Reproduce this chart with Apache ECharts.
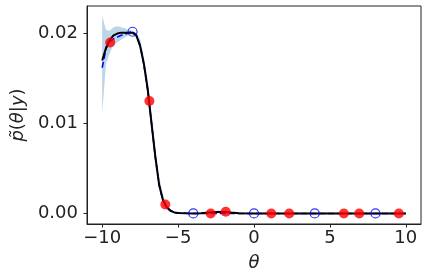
<!DOCTYPE html>
<html>
<head>
<meta charset="utf-8">
<script src="https://cdn.jsdelivr.net/npm/echarts@6/dist/echarts.min.js"></script>
<style>
  html, body { margin: 0; padding: 0; background: #fff; }
  #chart { width: 428px; height: 280px; }
</style>
</head>
<body>
<div id="chart"></div>
<script>
// theta grid shared by the curves and the band
const thetaGrid = [-10, -9.75, -9.5, -9.25, -9, -8.75, -8.5, -8.25, -8, -7.75, -7.5, -7.25, -7, -6.75, -6.5, -6.25, -6, -5.75, -5.5, -5.25, -5, -4.5, -4, -3.5, -3, -2.5, -2, -1.5, -1, 0, 2, 4, 6, 8, 10];
// black solid curve
const meanCurve = [0.0170, 0.0184, 0.0193, 0.0198, 0.0200, 0.0201, 0.0201, 0.0201, 0.0201, 0.0198, 0.0186, 0.0166, 0.0138, 0.0100, 0.0063, 0.0032, 0.0015, 0.0007, 0.0003, 0.00012, 0.00005, 0.00002, 0.00001, 0.00003, 0.0001, 0.00016, 0.0002, 0.0001, 0.00003, 0, 0, 0, 0, 0, 0];
// blue dashed curve
const dashCurve = [0.0162, 0.0183, 0.0191, 0.0194, 0.0196, 0.0198, 0.0199, 0.0201, 0.0202, 0.0198, 0.0187, 0.0165, 0.0137, 0.0100, 0.0063, 0.0032, 0.0015, 0.0007, 0.0003, 0.00012, 0.00005, 0.00002, 0, 0, 0, 0, 0, 0, 0, 0, 0, 0, 0, 0, 0];
// shaded band
const bandLow = [0.0111, 0.0166, 0.0178, 0.0188, 0.0190, 0.0193, 0.0196, 0.0198, 0.0199, 0.0195, 0.0183, 0.0160, 0.0132, 0.0095, 0.0058, 0.0028, 0.0012, 0.0005, 0.0002, 0.00005, 0, 0, 0, 0, 0, 0, 0, 0, 0, 0, 0, 0, 0, 0, 0];
const bandHigh = [0.0220, 0.0204, 0.0203, 0.0207, 0.0208, 0.0207, 0.0206, 0.0204, 0.0203, 0.0201, 0.0194, 0.0174, 0.0148, 0.0112, 0.0074, 0.0041, 0.0021, 0.0010, 0.0005, 0.0002, 0.0001, 0.00008, 0.00008, 0.00008, 0.00008, 0.00008, 0.00008, 0.00008, 0.00008, 0.00008, 0.00008, 0.00008, 0.00008, 0.00008, 0.00008];
// red observations
const redTheta = [-9.47, -6.89, -5.84, -2.85, -1.86, 1.14, 2.32, 5.92, 6.93, 9.54];
const redValue = [0.0190, 0.0125, 0.0010, 0, 0.0002, 0, 0, 0, 0, 0];
// open blue circles
const blueTheta = [-8, -4, 0, 4, 8];
const blueValue = [0.0202, 0, 0, 0, 0];
// ticks
const xTicks = [-10, -5, 0, 5, 10];
const yTicks = [0, 0.01, 0.02];

const pairs = (xs, ys) => xs.map((x, i) => [x, ys[i]]);
const font = 'DejaVu Sans';

const myChart = echarts.init(document.getElementById('chart'));
const option = {
  animation: false,
  grid: {
    left: 87, right: 7, top: 6, bottom: 56,
    show: true, borderColor: '#222', borderWidth: 1
  },
  xAxis: {
    type: 'value',
    min: -11,
    max: 11,
    name: 'θ',
    nameLocation: 'middle',
    nameGap: 30,
    nameTextStyle: { fontFamily: font, fontStyle: 'italic', fontSize: 18, color: '#222' },
    axisLine: { onZero: false, lineStyle: { color: '#222' } },
    axisTick: { customValues: xTicks, length: 3.5, lineStyle: { color: '#222' } },
    axisLabel: {
      customValues: xTicks,
      margin: 5,
      fontFamily: font, fontSize: 18, color: '#222',
      formatter: v => (v < 0 ? '\u2212' + Math.abs(v) : String(v))
    },
    splitLine: { show: false }
  },
  yAxis: {
    type: 'value',
    min: -0.00117,
    max: 0.02306,
    name: '{i|p̃}({i|θ}|{i|y})',
    nameLocation: 'middle',
    nameGap: 58,
    nameRotate: 90,
    nameTextStyle: {
      fontFamily: font, fontSize: 18, color: '#222',
      rich: { i: { fontFamily: font, fontStyle: 'italic', fontSize: 18, color: '#222' } }
    },
    axisLine: { onZero: false, lineStyle: { color: '#222' } },
    axisTick: { customValues: yTicks, length: 3.5, lineStyle: { color: '#222' } },
    axisLabel: {
      customValues: yTicks,
      margin: 9,
      fontFamily: font, fontSize: 18, color: '#222',
      formatter: v => v.toFixed(2)
    },
    splitLine: { show: false }
  },
  series: [
    {
      // band between bandLow and bandHigh
      type: 'custom',
      data: [[0, 0]],
      silent: true,
      renderItem: (params, api) => {
        const upper = thetaGrid.map((t, i) => api.coord([t, bandHigh[i]]));
        const lower = thetaGrid.map((t, i) => api.coord([t, bandLow[i]])).reverse();
        return {
          type: 'polygon',
          shape: { points: upper.concat(lower) },
          style: { fill: 'rgba(31,119,180,0.3)' }
        };
      },
      z: 1
    },
    {
      type: 'line',
      data: pairs(thetaGrid, dashCurve),
      showSymbol: false,
      lineStyle: { color: '#0000ff', width: 1.6, type: [6, 3] },
      z: 2
    },
    {
      type: 'line',
      data: pairs(thetaGrid, meanCurve),
      showSymbol: false,
      lineStyle: { color: '#000', width: 2 },
      z: 3
    },
    {
      type: 'scatter',
      data: pairs(redTheta, redValue),
      symbolSize: 10,
      itemStyle: { color: '#ff0000' },
      z: 4
    },
    {
      type: 'scatter',
      data: pairs(blueTheta, blueValue),
      symbolSize: 9,
      itemStyle: { color: 'transparent', borderColor: '#0000ff', borderWidth: 1.2 },
      z: 5
    }
  ]
};
myChart.setOption(option);
</script>
</body>
</html>
